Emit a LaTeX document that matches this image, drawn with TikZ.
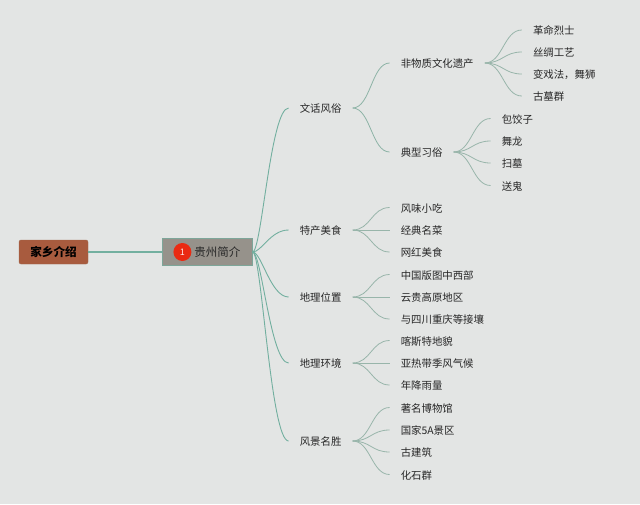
\documentclass[tikz,border=0pt]{standalone}
\usepackage{fontspec}
\setmainfont{Noto Sans CJK SC}
\usetikzlibrary{positioning}
\definecolor{Paper}{HTML}{E3E5E4}
\definecolor{RootBrown}{HTML}{A85B3E}
\definecolor{TopicGray}{HTML}{96928B}
\definecolor{BadgeRed}{HTML}{EA2A12}
\definecolor{Ink}{HTML}{262626}
\definecolor{TrunkGreen}{HTML}{72AF9F}
\definecolor{BranchGreen}{HTML}{8DB3A6}
\definecolor{LeafGreen}{HTML}{98B5AA}
\tikzset{%
  root_block/.style={%
    rectangle,%
    rounded corners=2pt,%
    fill=RootBrown,%
    draw=RootBrown!85!TrunkGreen,%
    minimum width=69pt,%
    minimum height=24pt,%
    text=black,%
    font={\fontsize{11.6}{13}\selectfont\bfseries},%
  },
  topic_block/.style={%
    rectangle,%
    fill=TopicGray,%
    draw=TrunkGreen!70!TopicGray,%
    minimum width=90pt,%
    minimum height=27pt,%
    text=Ink,%
    font={\fontsize{11.5}{13}\selectfont},%
  },
  badge/.style={%
    circle,%
    fill=BadgeRed,%
    minimum size=18pt,%
    inner sep=0pt,%
    text=white!90!BadgeRed,%
    font={\fontsize{9}{10}\selectfont},%
  },
  item/.style={%
    inner xsep=11pt,%
    inner ysep=0pt,%
    text height=9.5pt,%
    text depth=0.5pt,%
    text=Ink,%
    font={\fontsize{10.4}{12}\selectfont},%
  },
  trunk_path/.style={%
    color=TrunkGreen,%
    line width=0.9pt,%
  },
  branch_path/.style={%
    color=BranchGreen,%
    line width=0.8pt,%
  },
  leaf_path/.style={%
    color=LeafGreen,%
    line width=0.8pt,%
  },
}
\begin{document}
\begin{tikzpicture}[x=1pt, y=1pt]

    \fill [Paper] (0,-504) rectangle (640,0);

    \node [root_block] (Root) at (53.5,-252) {家乡介绍};
    \node [topic_block, right = 74 of Root] (Topic) {\hspace*{20pt}贵州简介};
    \node [badge, right = 11 of Topic.west] (Badge) {1};

    \node [item, right = 36 of Topic, yshift=144] (Custom) {文话风俗};
    \node [item, right = 36 of Topic, yshift=22] (Food) {特产美食};
    \node [item, right = 36 of Topic, yshift=-45] (Location) {地理位置};
    \node [item, right = 36 of Topic, yshift=-111] (Nature) {地理环境};
    \node [item, right = 36 of Topic, yshift=-189] (Scenery) {风景名胜};

    \node [item, right = 37 of Custom, yshift=45] (Heritage) {非物质文化遗产};
    \node [item, right = 37 of Custom, yshift=-44] (Habit) {典型习俗};

    \node [item, right = 37 of Heritage, yshift=33] (Heritage1) {革命烈士};
    \node [item, right = 37 of Heritage, yshift=11] (Heritage2) {丝绸工艺};
    \node [item, right = 37 of Heritage, yshift=-11] (Heritage3) {变戏法，舞狮};
    \node [item, right = 37 of Heritage, yshift=-33] (Heritage4) {古墓群};

    \node [item, right = 37 of Habit, yshift=33.5] (Habit1) {包饺子};
    \node [item, right = 37 of Habit, yshift=11] (Habit2) {舞龙};
    \node [item, right = 37 of Habit, yshift=-11] (Habit3) {扫墓};
    \node [item, right = 37 of Habit, yshift=-33.5] (Habit4) {送鬼};

    \node [item, right = 37 of Food, yshift=22.5] (Food1) {风味小吃};
    \node [item, right = 37 of Food] (Food2) {经典名菜};
    \node [item, right = 37 of Food, yshift=-22] (Food3) {网红美食};

    \node [item, right = 37 of Location, yshift=22.5] (Location1) {中国版图中西部};
    \node [item, right = 37 of Location] (Location2) {云贵高原地区};
    \node [item, right = 37 of Location, yshift=-22] (Location3) {与四川重庆等接壤};

    \node [item, right = 37 of Nature, yshift=22.5] (Nature1) {喀斯特地貌};
    \node [item, right = 37 of Nature] (Nature2) {亚热带季风气候};
    \node [item, right = 37 of Nature, yshift=-22] (Nature3) {年降雨量};

    \node [item, right = 37 of Scenery, yshift=33.5] (Scenery1) {著名博物馆};
    \node [item, right = 37 of Scenery, yshift=11] (Scenery2) {国家5A景区};
    \node [item, right = 37 of Scenery, yshift=-11] (Scenery3) {古建筑};
    \node [item, right = 37 of Scenery, yshift=-33.5] (Scenery4) {化石群};

    \draw [trunk_path, line width=1.1pt] (Root.east) -- (Topic.west);
    \foreach \kid in {Custom, Food, Location, Nature, Scenery} {
      \draw [trunk_path]
        (Topic.east) .. controls +(9,0) and +(-18,0) .. (\kid.west);
    }
    \foreach \kid in {Heritage, Habit} {
      \draw [branch_path]
        (Custom.east) .. controls +(18,0) and +(-18,0) .. (\kid.west);
    }
    \foreach \group in {Heritage, Habit, Scenery} {
      \foreach \kid in {1, 2, 3, 4} {
        \draw [leaf_path]
          (\group.east) .. controls +(18,0) and +(-18,0) .. (\group\kid.west);
      }
    }
    \foreach \group in {Food, Location, Nature} {
      \foreach \kid in {1, 2, 3} {
        \draw [leaf_path]
          (\group.east) .. controls +(18,0) and +(-18,0) .. (\group\kid.west);
      }
    }
  \end{tikzpicture}
\end{document}
